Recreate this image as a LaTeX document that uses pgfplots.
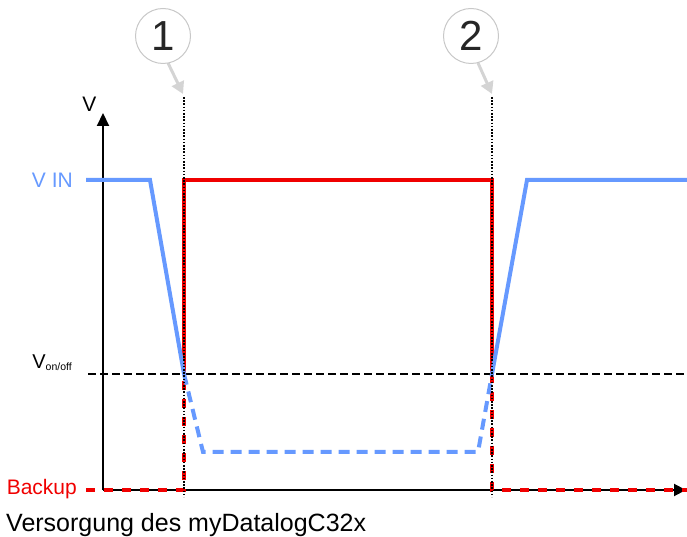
\documentclass[border=0pt]{standalone}
\usepackage{pgfplots}
\pgfplotsset{compat=1.18}
\usetikzlibrary{arrows.meta}
\usepackage{fontspec}
\setmainfont{Liberation Sans}
\definecolor{vblue}{RGB}{102,153,255}
\definecolor{vred}{RGB}{240,0,0}
\definecolor{cgrey}{RGB}{200,200,200}
\definecolor{agrey}{RGB}{212,212,212}
\begin{document}
\begin{tikzpicture}
\begin{axis}[
  at={(0pt,0pt)}, anchor=south west,
  width=687pt, height=537pt, scale only axis,
  xmin=0, xmax=687, ymin=0, ymax=537,
  hide axis, clip=false,
]
% axes
\addplot[black, line width=2pt, -{Triangle[length=13pt,width=12pt]}] coordinates {(103,47) (103,424)};
\addplot[black, line width=2pt, -{Triangle[length=12pt,width=12pt]}] coordinates {(103,47) (686,47)};
% V on/off level
\addplot[black, line width=1.5pt, dash pattern=on 8pt off 4pt] coordinates {(88,163) (687,163)};
% red (backup)
\addplot[vred, line width=4pt] coordinates {(184,163) (184,357) (492,357) (492,163)};
\addplot[vred, line width=4pt, dash pattern=on 9pt off 9pt] coordinates {(86,47) (184,47) (184,163)};
\addplot[vred, line width=4pt, dash pattern=on 9pt off 9pt] coordinates {(492,163) (492,47) (687,47)};
% blue (V IN)
\addplot[vblue, line width=4pt] coordinates {(86,357) (150,357) (184,163)};
\addplot[vblue, line width=4pt, dash pattern=on 11pt off 7pt] coordinates {(184,163) (203,85) (478,85) (492,163)};
\addplot[vblue, line width=4pt] coordinates {(492,163) (527,357) (687,357)};
% dotted markers
\addplot[black, line width=1.6pt, dash pattern=on 1.6pt off 1.6pt] coordinates {(184,440) (184,40)};
\addplot[black, line width=1.6pt, dash pattern=on 1.6pt off 1.6pt] coordinates {(492,440) (492,40)};
% grey arrows
\addplot[agrey, line width=3pt, -{Triangle[length=12pt,width=13pt]}] coordinates {(168,474) (183,443)};
\addplot[agrey, line width=3pt, -{Triangle[length=12pt,width=13pt]}] coordinates {(478,474) (492,443)};
% circles
\node[circle, draw=cgrey, line width=1pt, fill=white, minimum size=55pt, inner sep=0pt, font=\fontsize{42}{42}\selectfont, text=black!85] at (axis cs:163,501) {1};
\node[circle, draw=cgrey, line width=1pt, fill=white, minimum size=55pt, inner sep=0pt, font=\fontsize{42}{42}\selectfont, text=black!85] at (axis cs:471,501) {2};
% labels
\node[anchor=base, inner sep=0pt, font=\fontsize{21}{21}\selectfont] at (axis cs:89.5,425) {V};
\node[anchor=base east, inner sep=0pt, text=vblue, font=\fontsize{21}{21}\selectfont] at (axis cs:73,349) {V IN};
\node[anchor=base east, inner sep=0pt, font=\fontsize{20}{20}\selectfont] at (axis cs:72,168) {V\raisebox{-1.5pt}{\fontsize{10.5}{10.5}\selectfont on/off}};
\node[anchor=base east, inner sep=0pt, text=vred, font=\fontsize{21}{21}\selectfont] at (axis cs:77,42) {Backup};
\node[anchor=base west, inner sep=0pt, font=\fontsize{25}{25}\selectfont] at (axis cs:6,5.5) {Versorgung des myDatalogC32x};
\end{axis}
\pgfresetboundingbox
\path (0pt,0pt) rectangle (687pt,537pt);
\end{tikzpicture}
\end{document}
